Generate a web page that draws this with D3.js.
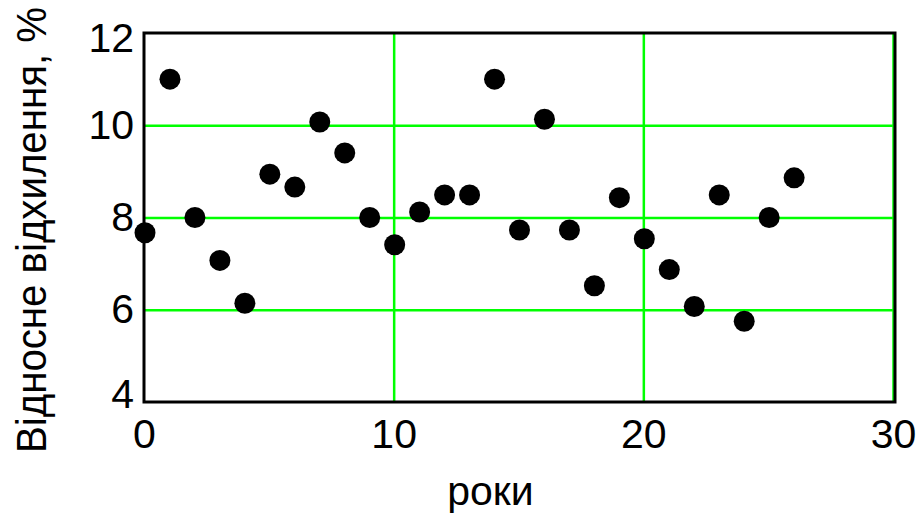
<!DOCTYPE html>
<html>
<head>
<meta charset="utf-8">
<script src="https://cdn.jsdelivr.net/npm/d3@7"></script>
<style>
	body { margin: 0; background: #fff; }
	text { font-family: Arial, "Liberation Sans", sans-serif; fill: #000; }
</style>
</head>
<body>
<div id="chart"></div>
<script>
// years and relative deviation (%)
var years = [0, 1, 2, 3, 4, 5, 6, 7, 8, 9, 10, 11, 12, 13, 14, 15, 16, 17, 18, 19, 20, 21, 22, 23, 24, 25, 26];
var deviation = [7.67, 11.0, 8.0, 7.07, 6.14, 8.94, 8.66, 10.07, 9.4, 8.0, 7.41, 8.12, 8.49, 8.49, 11.0, 7.73, 10.13, 7.73, 6.52, 8.43, 7.54, 6.87, 6.07, 8.49, 5.75, 8.0, 8.86];
var xTicks = [0, 10, 20, 30];
var yTicks = [4, 6, 8, 10, 12];
var xTitle = "роки";
var yTitle = "Відносне відхилення, %";

var width = 920;
var height = 513;
var plotLeft = 144, plotRight = 893, plotTop = 33, plotBottom = 402;

var svg = d3.select("#chart")
	.append("svg")
	.attr("width", width)
	.attr("height", height);

var x = d3.scaleLinear().domain([0, 30]).range([plotLeft, plotRight]);
var y = d3.scaleLinear().domain([4, 12]).range([plotBottom, plotTop]);

// green grid
svg.append("g")
	.attr("transform", "translate(0," + plotBottom + ")")
	.call(d3.axisBottom(x).tickValues(xTicks.slice(1)).tickSize(-(plotBottom - plotTop)).tickFormat(""))
	.call(function(g) { g.select(".domain").remove(); })
	.selectAll("line")
	.attr("stroke", "#00ff00")
	.attr("stroke-width", 2.5);

svg.append("g")
	.attr("transform", "translate(" + plotLeft + ",0)")
	.call(d3.axisLeft(y).tickValues(yTicks.slice(1, -1)).tickSize(-(plotRight - plotLeft)).tickFormat(""))
	.call(function(g) { g.select(".domain").remove(); })
	.selectAll("line")
	.attr("stroke", "#00ff00")
	.attr("stroke-width", 2.5);

// frame
svg.append("rect")
	.attr("x", plotLeft)
	.attr("y", plotTop)
	.attr("width", plotRight - plotLeft + 2)
	.attr("height", plotBottom - plotTop)
	.attr("fill", "none")
	.attr("stroke", "#000")
	.attr("stroke-width", 3);

// tick labels
var xAxis = svg.append("g")
	.attr("transform", "translate(0," + plotBottom + ")")
	.call(d3.axisBottom(x).tickValues(xTicks).tickSize(0).tickPadding(17));
xAxis.select(".domain").remove();
xAxis.selectAll("text").style("font-size", "41px").attr("fill", "#000");

var yAxis = svg.append("g")
	.attr("transform", "translate(" + plotLeft + ",0)")
	.call(d3.axisLeft(y).tickValues(yTicks).tickSize(0).tickPadding(10));
yAxis.select(".domain").remove();
yAxis.selectAll("text")
	.style("font-size", "41px")
	.attr("fill", "#000")
	.attr("y", function(d) { return d === 12 ? 5 : d === 4 ? -8 : 0; });

// points
svg.append("g")
	.selectAll("circle")
	.data(years)
	.enter()
	.append("circle")
	.attr("cx", function(d) { return x(d) + 1; })
	.attr("cy", function(d, i) { return y(deviation[i]); })
	.attr("r", 10.5)
	.attr("fill", "#000");

// titles
svg.append("text")
	.attr("x", (plotLeft + plotRight) / 2 - 28)
	.attr("y", 505)
	.attr("text-anchor", "middle")
	.style("font-size", "41px")
	.text(xTitle);

svg.append("text")
	.attr("transform", "translate(46," + 230 + ") rotate(-90)")
	.attr("text-anchor", "middle")
	.attr("textLength", 446)
	.attr("lengthAdjust", "spacingAndGlyphs")
	.style("font-size", "42px")
	.text(yTitle);
</script>
</body>
</html>
